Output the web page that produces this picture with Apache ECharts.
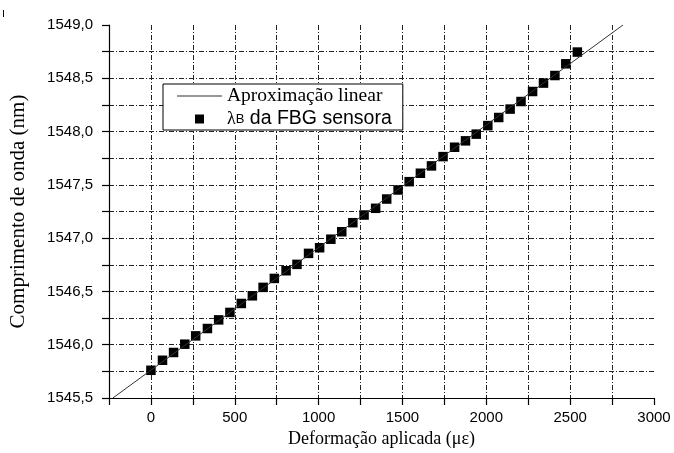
<!DOCTYPE html>
<html>
<head>
<meta charset="utf-8">
<script src="https://cdn.jsdelivr.net/npm/echarts@6/dist/echarts.min.js"></script>
<style>
html,body{margin:0;padding:0;background:#fff;}
#chart{width:674px;height:453px;}
</style>
</head>
<body>
<div id="chart"></div>
<script>
// Measured data: applied strain (µε) vs FBG Bragg wavelength (nm)
var strain = [0, 69, 135, 202, 267, 337, 404, 471, 539, 605, 669, 736, 806, 871, 940, 1006, 1073, 1138,
  1204, 1271, 1340, 1406, 1474, 1540, 1607, 1673, 1742, 1811, 1876, 1940, 2009, 2074, 2142, 2207, 2276, 2341, 2409, 2474, 2543];
var wavelength = [1545.760, 1545.854, 1545.927, 1546.005, 1546.083, 1546.152, 1546.233, 1546.303, 1546.387,
  1546.459, 1546.538, 1546.622, 1546.694, 1546.754, 1546.857, 1546.910, 1546.990, 1547.060,
  1547.145, 1547.217, 1547.280, 1547.367, 1547.452, 1547.530, 1547.609, 1547.678, 1547.765,
  1547.853, 1547.913, 1547.976, 1548.056, 1548.132, 1548.211, 1548.282, 1548.376, 1548.455, 1548.526, 1548.636, 1548.746];
// Linear fit line endpoints
var fitStrain = [-227, 2815];
var fitWavelength = [1545.5, 1549.0];

var seriesNames = ['Aproximação linear', 'λB da FBG sensora'];
var xTitle = 'Deformação aplicada (με)';
var yTitle = 'Comprimento de onda (nm)';

var pts = strain.map(function (s, i) { return [s, wavelength[i]]; });
var fitPts = fitStrain.map(function (s, i) { return [s, fitWavelength[i]]; });

var gridLine = { show: true, showMaxLine: false, lineStyle: { color: '#222', width: 1, type: [5, 2, 1, 2] } };

var chart = echarts.init(document.getElementById('chart'), null, { renderer: 'canvas' });
chart.setOption({
  animation: false,
  backgroundColor: '#fff',
  grid: { left: 109, right: 20, top: 25, bottom: 55, containLabel: false },
  xAxis: {
    type: 'value', min: -250, max: 3000, interval: 250,
    axisLine: { show: true, onZero: false, lineStyle: { color: '#000', width: 1.2 } },
    axisTick: { show: true, inside: false, length: 7, lineStyle: { color: '#000', width: 1.2 } },
    axisLabel: {
      color: '#000', fontFamily: 'Liberation Sans, Arial', fontSize: 15, margin: 12,
      formatter: function (v) { return (v >= 0 && v % 500 === 0) ? String(v) : ''; }
    },
    splitLine: gridLine,
    name: xTitle, nameLocation: 'middle', nameGap: 31,
    nameTextStyle: { color: '#000', fontFamily: 'Liberation Serif, Times New Roman', fontSize: 18 }
  },
  yAxis: {
    type: 'value', min: 1545.5, max: 1549.0, interval: 0.25,
    axisLine: { show: true, onZero: false, lineStyle: { color: '#000', width: 1.2 } },
    axisTick: { show: true, inside: false, length: 7, lineStyle: { color: '#000', width: 1.2 } },
    axisLabel: {
      color: '#000', fontFamily: 'Liberation Sans, Arial', fontSize: 15, margin: 16,
      formatter: function (v) {
        var r = Math.round(v * 100) / 100;
        if (Math.abs(r * 2 - Math.round(r * 2)) > 1e-6) return '';
        return r.toFixed(1).replace('.', ',');
      }
    },
    splitLine: gridLine,
    name: yTitle, nameLocation: 'middle', nameGap: 80, nameRotate: 90,
    nameTextStyle: { color: '#000', fontFamily: 'Liberation Serif, Times New Roman', fontSize: 21 }
  },
  legend: {
    orient: 'vertical', left: 163, top: 84,
    padding: [2, 11, 1, 14], itemGap: 3,
    itemWidth: 45, itemHeight: 9,
    backgroundColor: '#fff', borderColor: '#000', borderWidth: 1,
    data: [
      { name: seriesNames[0], icon: 'path://M0,0L45,0L45,1L0,1Z', itemStyle: { color: '#333' } },
      { name: seriesNames[1], icon: 'path://M0,0L1,0L1,1L0,1Z', itemStyle: { color: '#000' } }
    ],
    formatter: function (name) {
      if (name === seriesNames[0]) return '{a|' + name + '}';
      return '{l|λ}{b|B}{s| da FBG sensora}';
    },
    textStyle: {
      color: '#000',
      rich: {
        a: { fontFamily: 'Liberation Serif, Times New Roman', fontSize: 19.5, color: '#000' },
        l: { fontFamily: 'Liberation Serif, Times New Roman', fontSize: 18, color: '#000' },
        b: { fontFamily: 'Liberation Sans, Arial', fontSize: 13, color: '#000' },
        s: { fontFamily: 'Liberation Sans, Arial', fontSize: 19.5, color: '#000' }
      }
    }
  },
  series: [
    {
      name: seriesNames[0], type: 'line', data: fitPts, symbol: 'none', clip: true,
      lineStyle: { color: '#333', width: 1 }, itemStyle: { color: '#333' }, z: 3
    },
    {
      name: seriesNames[1], type: 'scatter', data: pts, symbol: 'rect', symbolSize: 9.5,
      itemStyle: { color: '#000', opacity: 1 }, z: 2
    }
  ],
  graphic: [
    { type: 'line', shape: { x1: 3.5, y1: 10, x2: 3.5, y2: 17 }, style: { stroke: '#000', lineWidth: 1 } }
  ]
});
</script>
</body>
</html>
